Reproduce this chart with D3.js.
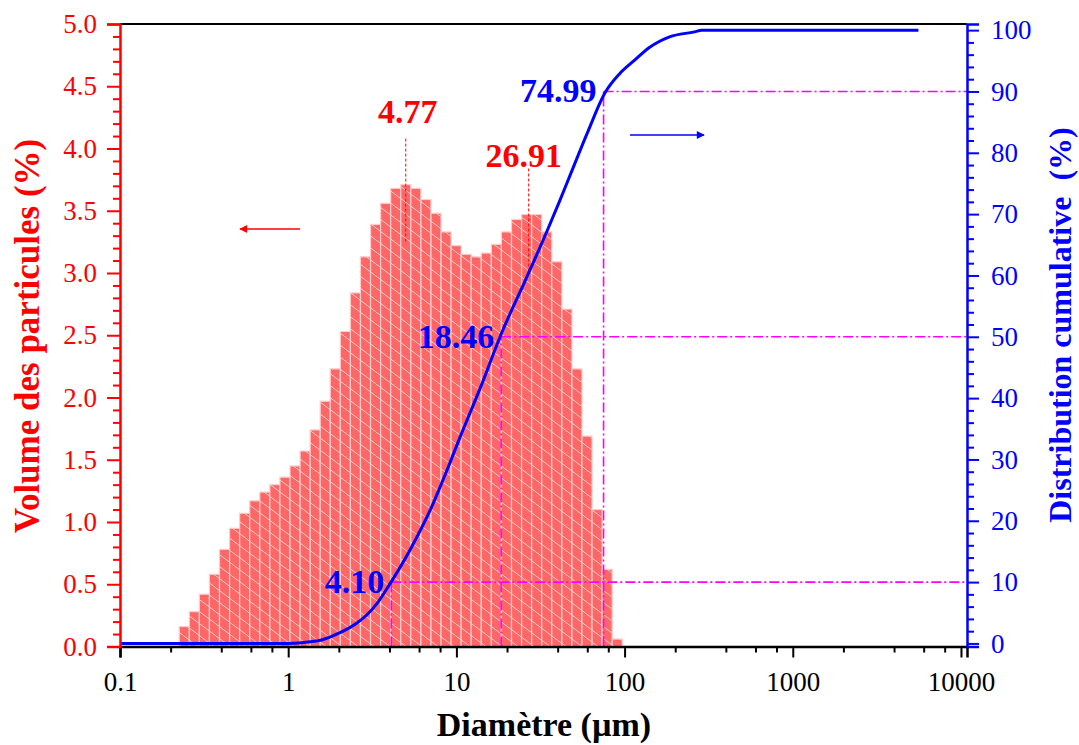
<!DOCTYPE html>
<html>
<head>
<meta charset="utf-8">
<script src="https://cdn.jsdelivr.net/npm/d3@7"></script>
<style>
  body { margin: 0; background: #fff; }
  text { font-family: 'Liberation Serif', 'DejaVu Serif', serif; }
</style>
</head>
<body>
<div id="chart"></div>
<script>
// bin edges (µm) and volume (%) per bin
const binEdges = [0.225, 0.2584, 0.2965, 0.3402, 0.3905, 0.4482, 0.5145, 0.5904, 0.6778, 0.778,
  0.8932, 1.025, 1.177, 1.351, 1.55, 1.779, 2.042, 2.344, 2.69, 3.088, 3.543, 4.068, 4.669,
  5.358, 6.151, 7.06, 8.103, 9.299, 10.67, 12.25, 14.06, 16.14, 18.52, 21.27, 24.41, 28.01,
  32.15, 36.9, 42.36, 48.62, 55.8, 64.04, 73.5, 84.37, 96.83]
const volume = [0.16, 0.28, 0.42, 0.58, 0.78, 0.95, 1.07, 1.17, 1.24, 1.3, 1.36, 1.45, 1.57,
  1.74, 1.97, 2.23, 2.53, 2.84, 3.13, 3.39, 3.56, 3.68, 3.71, 3.68, 3.59, 3.48, 3.33, 3.22,
  3.15, 3.13, 3.16, 3.23, 3.33, 3.43, 3.47, 3.47, 3.33, 3.09, 2.71, 2.23, 1.69, 1.1, 0.62, 0.06]

// cumulative distribution
const cumSize = [0.1, 1.0, 1.2, 1.35, 1.6, 1.94, 2.55, 2.92, 3.35, 3.98, 5.29, 6.95, 9.14, 10.5,
  13.8, 18.5, 26.1, 34.3, 41.2, 47.2, 60.6, 76.2, 93.5, 114.8, 141, 185, 268, 285, 5585]
const cumPct = [0, 0, 0.1, 0.26, 0.6, 1.5, 3.3, 4.6, 6.4, 9.5, 15.2, 21.6, 29.4, 33.6,
  41.5, 50.5, 59.6, 67.0, 72.2, 76.2, 83.5, 89.7, 92.9, 95.1, 97.2, 98.9, 99.8, 100, 100]

// d10 / d50 / d90 and the two modes
const dValues = [4.1, 18.46, 74.99]
const dPct = [10, 50, 90]
const dLabels = ['4.10', '18.46', '74.99']
const modeX = [5.0, 26.91]
const modeLabels = ['4.77', '26.91']
const modeTop = [3.71, 3.47]

// ticks
const xTicks = [0.1, 1, 10, 100, 1000, 10000]
const xMinor = [0.2, 0.4, 0.6, 0.8, 2, 4, 6, 8, 20, 40, 60, 80, 200, 400, 600, 800,
  2000, 4000, 6000, 8000]
const leftTicks = [0, 0.5, 1, 1.5, 2, 2.5, 3, 3.5, 4, 4.5, 5]
const rightTicks = [0, 10, 20, 30, 40, 50, 60, 70, 80, 90, 100]

const margin = { top: 24, right: 112, bottom: 98.5, left: 120 },
  width = 1079 - margin.left - margin.right,
  height = 745 - margin.top - margin.bottom

const RED = '#ff0000',
  BLUE = '#0000ff',
  MAGENTA = '#ff00ff'

const svg = d3
  .select('#chart')
  .append('svg')
  .attr('width', 1079)
  .attr('height', 745)

const defs = svg.append('defs')
const hatch = defs
  .append('pattern')
  .attr('id', 'hatch')
  .attr('patternUnits', 'userSpaceOnUse')
  .attr('width', 16)
  .attr('height', 12)
hatch.append('rect').attr('width', 16).attr('height', 12).attr('fill', '#ff6666')
hatch
  .append('path')
  .attr('d', 'M0,0L16,12M-16,0L0,12M16,0L32,12')
  .attr('stroke', '#ffffff')
  .attr('stroke-opacity', 0.65)
  .attr('stroke-width', 1)

const addArrow = (id, color) => {
  defs
    .append('marker')
    .attr('id', id)
    .attr('viewBox', '0 0 10 10')
    .attr('refX', 9)
    .attr('refY', 5)
    .attr('markerWidth', 16)
    .attr('markerHeight', 8)
    .attr('markerUnits', 'userSpaceOnUse')
    .attr('orient', 'auto')
    .append('path')
    .attr('d', 'M0,0L10,5L0,10z')
    .attr('fill', color)
}
addArrow('arrRed', RED)
addArrow('arrBlue', BLUE)

const g = svg.append('g').attr('transform', `translate(${margin.left},${margin.top})`)

// scales
const x = d3.scaleLog().domain([0.1, 10860]).range([0, width])
const yL = d3.scaleLinear().domain([0, 5]).range([height, 0])
const yR = d3.scaleLinear().domain([-0.5, 101]).range([height, 0])

// bars
g.selectAll('.bar')
  .data(volume)
  .join('rect')
  .attr('class', 'bar')
  .attr('x', (d, i) => x(binEdges[i]))
  .attr('width', (d, i) => x(binEdges[i + 1]) - x(binEdges[i]))
  .attr('y', (d) => yL(d))
  .attr('height', (d) => height - yL(d))
  .attr('fill', 'url(#hatch)')
  .attr('stroke', '#ffcccc')
  .attr('stroke-width', 1.2)

// d10/d50/d90 guide lines
dValues.forEach((d, i) => {
  g.append('line')
    .attr('x1', x(d))
    .attr('x2', x(d))
    .attr('y1', height)
    .attr('y2', yR(dPct[i]))
    .attr('stroke', MAGENTA)
    .attr('stroke-width', 1.6)
    .attr('stroke-dasharray', '10,3,2,3')
  g.append('line')
    .attr('x1', x(d))
    .attr('x2', width)
    .attr('y1', yR(dPct[i]))
    .attr('y2', yR(dPct[i]))
    .attr('stroke', MAGENTA)
    .attr('stroke-width', 1.6)
    .attr('stroke-dasharray', '10,3,2,3')
})

// modes
const labelLift = [62, 47],
  labelShift = [2, -5]
modeX.forEach((d, i) => {
  g.append('line')
    .attr('x1', x(d))
    .attr('x2', x(d))
    .attr('y1', yL(modeTop[i]) - 46)
    .attr('y2', yL(modeTop[i]) + 57)
    .attr('stroke', RED)
    .attr('stroke-width', 1)
    .attr('stroke-dasharray', '3,2')
  g.append('text')
    .attr('x', x(d) + labelShift[i])
    .attr('y', yL(modeTop[i]) - labelLift[i])
    .attr('text-anchor', 'middle')
    .attr('font-size', 34)
    .attr('font-weight', 'bold')
    .attr('fill', RED)
    .text(modeLabels[i])
})

// cumulative curve
const line = d3
  .line()
  .x((d, i) => x(cumSize[i]))
  .y((d) => yR(d))
  .curve(d3.curveMonotoneX)
g.append('path')
  .datum(cumPct)
  .attr('d', line)
  .attr('fill', 'none')
  .attr('stroke', BLUE)
  .attr('stroke-width', 3)

dValues.forEach((d, i) => {
  g.append('text')
    .attr('x', x(d) - 7)
    .attr('y', yR(dPct[i]) + 11)
    .attr('text-anchor', 'end')
    .attr('font-size', 34)
    .attr('font-weight', 'bold')
    .attr('fill', BLUE)
    .text(dLabels[i])
})

// arrows
g.append('line')
  .attr('x1', 180)
  .attr('x2', 120)
  .attr('y1', 205)
  .attr('y2', 205)
  .attr('stroke', RED)
  .attr('stroke-width', 1.5)
  .attr('marker-end', 'url(#arrRed)')
g.append('line')
  .attr('x1', 510)
  .attr('x2', 584)
  .attr('y1', 111)
  .attr('y2', 111)
  .attr('stroke', BLUE)
  .attr('stroke-width', 1.5)
  .attr('marker-end', 'url(#arrBlue)')

// top frame
g.append('line')
  .attr('x1', 0)
  .attr('x2', width)
  .attr('y1', 0)
  .attr('y2', 0)
  .attr('stroke', '#000')
  .attr('stroke-width', 2)

// X axis
const xAxis = g
  .append('g')
  .attr('transform', `translate(0,${height})`)
  .call(d3.axisBottom(x).tickValues(xTicks).tickSize(11).tickPadding(14).tickFormat((d) => d))
xAxis.select('.domain').attr('stroke-width', 2.5)
xAxis.selectAll('.tick line').attr('stroke-width', 2)
xAxis.selectAll('text').attr('font-size', 27).attr('fill', '#000')
const xMin = g
  .append('g')
  .attr('transform', `translate(0,${height})`)
  .call(d3.axisBottom(x).tickValues(xMinor).tickSize(6).tickFormat(''))
xMin.select('.domain').remove()
xMin.selectAll('.tick line').attr('stroke-width', 2)

// left axis
const yAxisL = g
  .append('g')
  .call(d3.axisLeft(yL).tickValues(leftTicks).tickSize(13).tickPadding(10).tickFormat(d3.format('.1f')))
yAxisL.select('.domain').attr('stroke', RED).attr('stroke-width', 2.5)
yAxisL.selectAll('.tick line').attr('stroke', RED).attr('stroke-width', 2)
yAxisL.selectAll('text').attr('font-size', 27).attr('fill', RED)
const yMinL = g
  .append('g')
  .call(d3.axisLeft(yL).tickValues(d3.range(0.1, 5, 0.1).filter((v) => Math.round(v * 10) % 5 !== 0)).tickSize(7).tickFormat(''))
yMinL.select('.domain').remove()
yMinL.selectAll('.tick line').attr('stroke', RED).attr('stroke-width', 2)

// right axis
const yAxisR = g
  .append('g')
  .attr('transform', `translate(${width},0)`)
  .call(d3.axisRight(yR).tickValues(rightTicks).tickSize(12).tickPadding(12).tickFormat(d3.format('d')))
yAxisR.select('.domain').attr('stroke', BLUE).attr('stroke-width', 2.5)
yAxisR.selectAll('.tick line').attr('stroke', BLUE).attr('stroke-width', 2)
yAxisR.selectAll('text').attr('font-size', 27).attr('fill', BLUE)
const yMinR = g
  .append('g')
  .attr('transform', `translate(${width},0)`)
  .call(d3.axisRight(yR).tickValues(d3.range(2, 100, 2).filter((v) => v % 10 !== 0)).tickSize(7).tickFormat(''))
yMinR.select('.domain').remove()
yMinR.selectAll('.tick line').attr('stroke', BLUE).attr('stroke-width', 2)

// axis titles
svg
  .append('text')
  .attr('x', 544)
  .attr('y', 736)
  .attr('text-anchor', 'middle')
  .attr('font-size', 34)
  .attr('font-weight', 'bold')
  .text('Diamètre (µm)')
svg
  .append('text')
  .attr('transform', 'translate(39,336)rotate(-90)')
  .attr('text-anchor', 'middle')
  .attr('font-size', 35)
  .attr('font-weight', 'bold')
  .attr('fill', RED)
  .text('Volume des particules (%)')
svg
  .append('text')
  .attr('transform', 'translate(1071,325)rotate(-90)')
  .attr('text-anchor', 'middle')
  .attr('font-size', 32)
  .attr('font-weight', 'bold')
  .attr('fill', BLUE)
  .style('white-space', 'pre')
  .text('Distribution cumulative  (%)')
</script>
</body>
</html>
